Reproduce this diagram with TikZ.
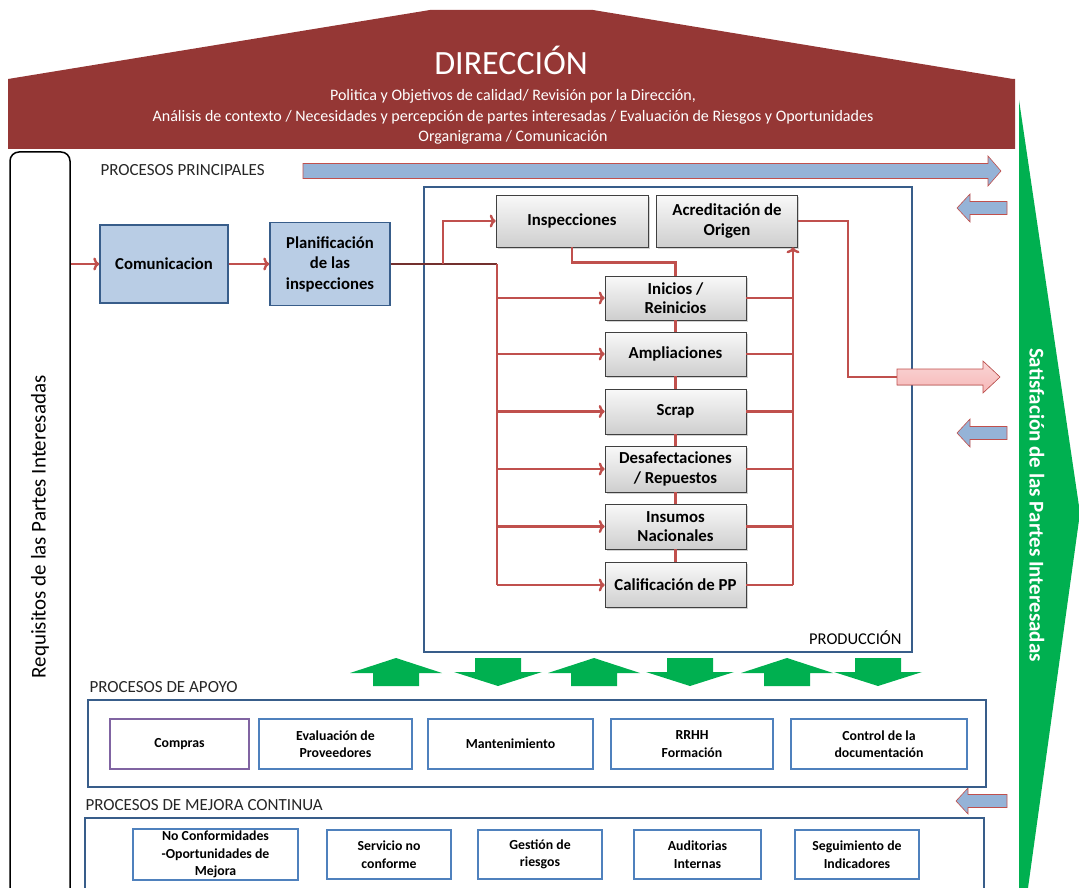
\documentclass[tikz,border=0pt]{standalone}
\usepackage{fontspec}
\setmainfont{Carlito}
\usepackage{xcolor}
\usepackage{tikz}
\usetikzlibrary{shapes, arrows, arrows.meta, positioning, calc, shadows}

\definecolor{direccion}{HTML}{953735}
\definecolor{conector}{HTML}{C0504D}
\definecolor{celeste}{HTML}{B9CDE5}
\definecolor{azulborde}{HTML}{385D8A}
\definecolor{azulflecha}{HTML}{95B3D7}
\definecolor{verde}{HTML}{00B050}
\definecolor{lila}{HTML}{8064A2}
\definecolor{marco}{HTML}{4F81BD}
\definecolor{rosa}{HTML}{F6B8B8}

\tikzset{
    planbox/.style={draw=azulborde, line width=1.5pt, fill=celeste, align=center, inner sep=2pt,
        font=\fontsize{16.7}{20.5}\selectfont\bfseries},
    prodbox/.style={draw=black!75, line width=0.6pt, top color=gray!5, bottom color=gray!38,
        drop shadow={shadow xshift=1.5pt, shadow yshift=-1.5pt, opacity=0.35},
        align=center, inner sep=2pt, minimum width=141pt, font=\fontsize{16.8}{19.5}\selectfont\bfseries},
    apoyobox/.style={draw=marco, line width=1.5pt, fill=white, align=center, inner sep=2pt,
        font=\fontsize{13.8}{17.5}\selectfont\bfseries},
    rotulo/.style={anchor=west, font=\fontsize{17}{20}\selectfont, text=black!85},
    conn/.style={draw=conector, line width=2.6pt},
    punta/.style={-{To[length=6pt, width=13pt, line width=2.4pt]}},
    bloque/.style={draw=conector, line width=0.6pt, fill=azulflecha}
}

\newcommand{\flecha}[7]{%
    \filldraw[#1] (#2,#5-#6) -- (#3,#5-#6) -- (#3,#5-#7) -- (#4,#5) -- (#3,#5+#7) -- (#3,#5+#6) -- (#2,#5+#6) -- cycle;}

\begin{document}
\begin{tikzpicture}[x=1pt, y=-1pt]
    \useasboundingbox (0,0) rectangle (1079,888);

    \fill[direccion] (8,149) -- (8,79) -- (430,10) -- (593,10) -- (1013,79) -- (1015,79) -- (1015,149) -- cycle;
    \node[text=white, font=\fontsize{34}{40}\selectfont] (direccionlbl) at (511,60) {DIRECCIÓN};
    \node[text=white, align=center, font=\fontsize{16}{20.5}\selectfont] (politica) at (513,117)
        {Politica y Objetivos de calidad/ Revisión por la Dirección,\\
        Análisis de contexto / Necesidades y percepción de partes interesadas / Evaluación de Riesgos y Oportunidades\\
        Organigrama / Comunicación};

    \fill[verde] (1019,100) -- (1080,513) -- (1028,888) -- (1019,888) -- cycle;
    \node[rotate=-90, text=white, font=\fontsize{21}{24}\selectfont\bfseries] (satisfaccion) at (1037,505)
        {Satisfación de las Partes Interesadas};

    \node[draw, line width=1.5pt, rounded corners=9pt, rotate=90, minimum width=750pt, minimum height=60pt,
        font=\fontsize{21}{24}\selectfont] (requisitos) at (40,527) {Requisitos de las Partes Interesadas};

    \node[rotulo] (principales) at (97,170) {PROCESOS PRINCIPALES};
    \flecha{bloque}{303}{988}{1001}{171}{7.5}{15}
    \flecha{bloque}{1007}{970}{957}{208}{6.5}{14}
    \flecha{bloque}{1007}{970}{957}{433}{6.5}{14}
    \flecha{bloque}{1007}{968}{956}{801}{6.5}{13}

    \draw[azulborde, line width=1.5pt] (424,187) rectangle (912,652);
    \node[anchor=east, font=\fontsize{16.5}{20}\selectfont] (produccion) at (905,638) {PRODUCCIÓN};

    \node[planbox, minimum width=128pt, minimum height=78pt] (comunicacion) at (164,264) {Comunicacion};
    \node[planbox, minimum width=120pt, minimum height=83pt] (planificacion) at (330,264) {Planificación\\de las\\inspecciones};

    \node[prodbox, minimum width=152pt, minimum height=52pt] (inspecciones) at (572,221) {Inspecciones};
    \node[prodbox, minimum height=52pt] (acreditacion) at (727,221) {Acreditación de\\Origen};
    \node[prodbox, minimum height=44pt] (inicios) at (675.5,298) {Inicios /\\Reinicios};
    \node[prodbox, minimum height=44pt] (ampliaciones) at (675.5,354) {Ampliaciones};
    \node[prodbox, minimum height=45pt] (scrap) at (675.5,411.5) {Scrap};
    \node[prodbox, minimum height=46pt] (desafectaciones) at (675.5,469) {Desafectaciones\\/ Repuestos};
    \node[prodbox, minimum height=45pt] (insumos) at (675.5,526.5) {Insumos\\Nacionales};
    \node[prodbox, minimum height=45pt] (calificacion) at (675.5,585) {Calificación de PP};

    \coordinate (busizq) at (497,264);
    \coordinate (ramal) at (443,264);
    \coordinate (busder) at (793,585);
    \coordinate (codo) at (848,377);
    \coordinate (salida) at (897,377);

    \draw[conn, punta] (requisitos.south |- comunicacion.west) -- (comunicacion.west);
    \draw[conn, punta] (comunicacion) -- (planificacion);
    \draw[conn, draw=conector!60!black] (planificacion.east) -- (busizq);
    \draw[conn] (busizq) -- (busizq |- calificacion.west);
    \draw[conn, punta] (ramal) |- (inspecciones.west);
    \foreach \n in {inicios, ampliaciones, scrap, desafectaciones, insumos, calificacion}
        \draw[conn, punta] (busizq |- \n.west) -- (\n.west);
    \foreach \n in {inicios, ampliaciones, scrap, desafectaciones, insumos, calificacion}
        \draw[conn] (\n.east) -- (busder |- \n.east);
    \draw[conn, punta] (busder) -- (busder |- acreditacion.south);
    \draw[conn] (inspecciones.south) -- ++(0,15) -| (inicios.north);
    \draw[conn] (inicios) -- (ampliaciones);
    \draw[conn] (ampliaciones) -- (scrap);
    \draw[conn] (scrap) -- (desafectaciones);
    \draw[conn] (desafectaciones) -- (insumos);
    \draw[conn] (insumos) -- (calificacion);
    \draw[conn] (acreditacion.east) -| (codo) -- (salida);
    \flecha{draw=conector, line width=0.6pt, top color=rosa!60, bottom color=rosa}{897}{983}{1000}{377}{8}{16}

    \foreach \x in {396, 594, 787}
        \fill[verde] (\x-23,686) -- (\x-23,673) -- (\x-46,673) -- (\x,658) -- (\x+46,673) -- (\x+23,673) -- (\x+23,686) -- cycle;
    \foreach \x in {498, 690, 878}
        \fill[verde] (\x-23,658) -- (\x+23,658) -- (\x+23,672) -- (\x+44,672) -- (\x,686) -- (\x-44,672) -- (\x-23,672) -- cycle;

    \node[rotulo] (apoyo) at (86,687) {PROCESOS DE APOYO};
    \draw[azulborde, line width=1.5pt] (88,700) rectangle (986,787);
    \node[apoyobox, draw=lila, minimum width=139pt, minimum height=50pt] (compras) at (179.5,744) {Compras};
    \node[apoyobox, minimum width=153pt, minimum height=50pt] (evaluacion) at (335.5,744) {Evaluación de\\Proveedores};
    \node[apoyobox, minimum width=165pt, minimum height=50pt] (mantenimiento) at (510.5,744) {Mantenimiento};
    \node[apoyobox, minimum width=162pt, minimum height=50pt] (rrhh) at (692,744) {RRHH\\Formación};
    \node[apoyobox, minimum width=176pt, minimum height=50pt] (control) at (879,744) {Control de la\\documentación};

    \node[rotulo] (mejora) at (82,805) {PROCESOS DE MEJORA CONTINUA};
    \draw[azulborde, line width=1.5pt] (85,818) rectangle (984,900);
    \node[apoyobox, minimum width=165pt, minimum height=49pt] (noconf) at (215.5,854.5) {No Conformidades\\-Oportunidades de\\Mejora};
    \node[apoyobox, minimum width=124pt, minimum height=49pt] (servicio) at (389,854.5) {Servicio no\\conforme};
    \node[apoyobox, minimum width=124pt, minimum height=49pt] (riesgos) at (540,854.5) {Gestión de\\riesgos};
    \node[apoyobox, minimum width=127pt, minimum height=49pt] (auditorias) at (697.5,854.5) {Auditorias\\Internas};
    \node[apoyobox, minimum width=124pt, minimum height=49pt] (seguimiento) at (857,854.5) {Seguimiento de\\Indicadores};
\end{tikzpicture}
\end{document}
